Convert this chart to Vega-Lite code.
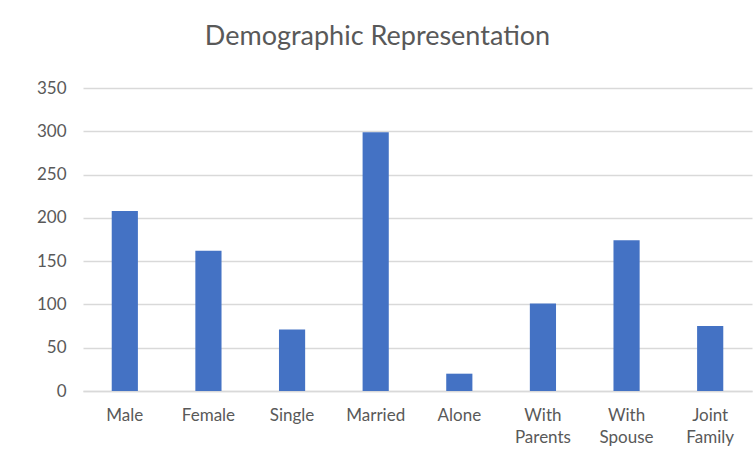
{
  "$schema": "https://vega.github.io/schema/vega-lite/v6.json",
  "width": 669,
  "height": 303,
  "autosize": {"type": "none"},
  "padding": {"left": 83, "top": 88, "right": 2, "bottom": 62},
  "background": "white",
  "title": {
    "text": "Demographic Representation",
    "anchor": "middle",
    "dx": -40,
    "offset": 28,
    "fontSize": 27,
    "font": "Lato",
    "fontWeight": "normal",
    "color": "#595959"
  },
  "data": {
    "values": [
      {"category": "Male", "count": 208},
      {"category": "Female", "count": 162},
      {"category": "Single", "count": 71},
      {"category": "Married", "count": 299},
      {"category": "Alone", "count": 20},
      {"category": "With Parents", "count": 101},
      {"category": "With Spouse", "count": 174},
      {"category": "Joint Family", "count": 75}
    ]
  },
  "mark": {"type": "bar", "color": "#4472C4"},
  "encoding": {
    "x": {
      "field": "category",
      "type": "nominal",
      "sort": null,
      "scale": {"paddingInner": 0.687, "paddingOuter": 0.3435},
      "axis": {
        "title": null,
        "labelAngle": 0,
        "labelExpr": "split(datum.label, ' ')",
        "labelLineHeight": 22,
        "labelFontSize": 17,
        "labelFont": "Lato",
        "labelColor": "#595959",
        "labelPadding": 16,
        "ticks": false,
        "tickSize": 0,
        "domainColor": "#d9d9d9",
        "domainWidth": 1.5
      }
    },
    "y": {
      "field": "count",
      "type": "quantitative",
      "scale": {"domain": [0, 350], "nice": false},
      "axis": {
        "title": null,
        "values": [0, 50, 100, 150, 200, 250, 300, 350],
        "labelFontSize": 17,
        "labelFont": "Lato",
        "labelColor": "#595959",
        "labelPadding": 17,
        "ticks": false,
        "tickSize": 0,
        "domain": false,
        "gridColor": "#d9d9d9",
        "gridWidth": 1.5
      }
    }
  },
  "config": {"view": {"stroke": null}}
}
